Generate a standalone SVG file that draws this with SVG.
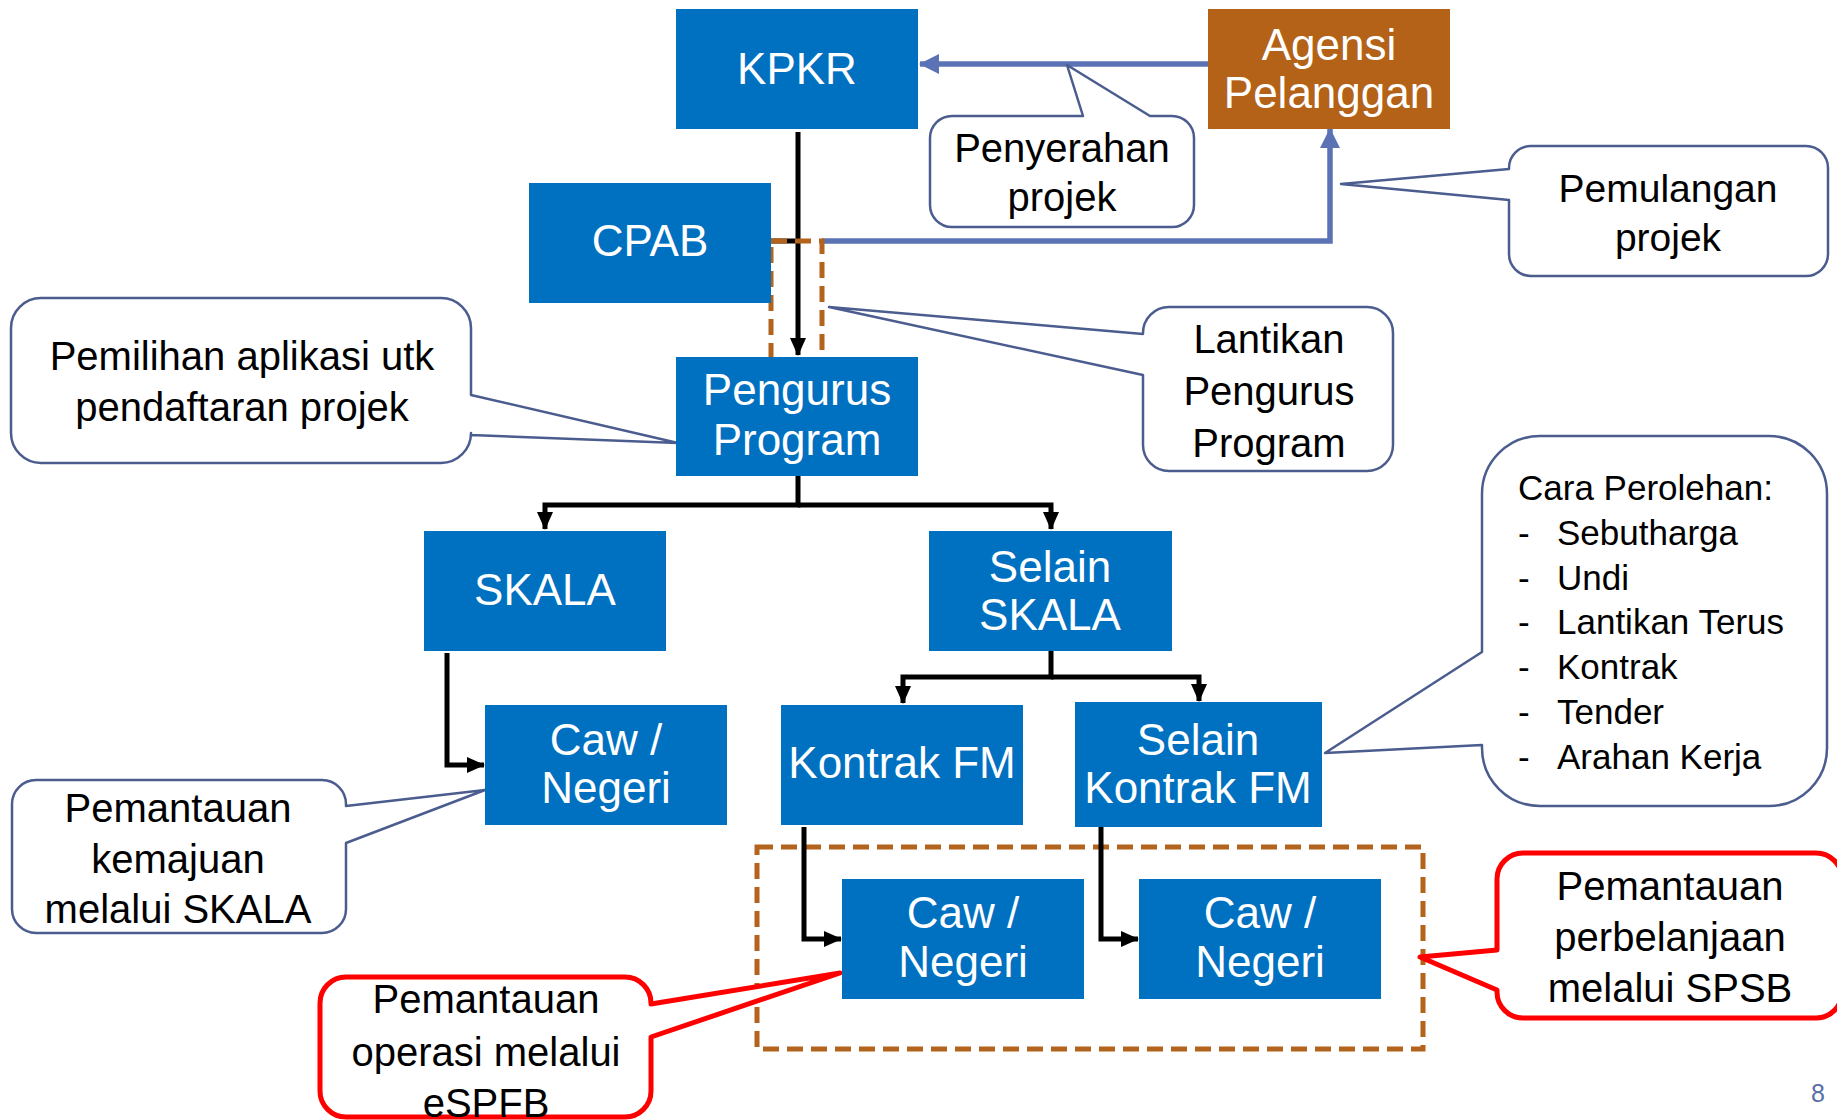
<svg xmlns="http://www.w3.org/2000/svg" width="1837" height="1120" viewBox="0 0 1837 1120">
<style>
.node rect{fill:#0070C0}
.node text{fill:#fff;font-family:"Liberation Sans",Arial,sans-serif;font-size:44px;text-anchor:middle}
.co path{fill:#fff;stroke:#4B5C8E;stroke-width:2.5;stroke-linejoin:round}
.co.red path{stroke:#FF0000;stroke-width:5}
.co text{fill:#000;font-family:"Liberation Sans",Arial,sans-serif;font-size:40px;text-anchor:middle}
.co text.l{text-anchor:start;font-size:35px}
.blk{fill:none;stroke:#000;stroke-width:5;marker-end:url(#ab)}
.blu{fill:none;stroke:#5B73B5;stroke-width:5.5;marker-end:url(#au)}
.dash{fill:none;stroke:#B4631C;stroke-width:5;stroke-dasharray:16 8}
</style>
<defs>
<marker id="ab" markerUnits="userSpaceOnUse" markerWidth="18" markerHeight="18" viewBox="0 0 18 18" refX="17" refY="9" orient="auto"><path d="M0,1 L18,9 L0,17 Z" fill="#000"/></marker>
<marker id="au" markerUnits="userSpaceOnUse" markerWidth="20" markerHeight="22" viewBox="0 0 20 22" refX="19" refY="11" orient="auto"><path d="M0,1 L20,11 L0,21 Z" fill="#5B73B5"/></marker>
</defs>
<rect width="1837" height="1120" fill="#fff"/>

<g id="dashed-groups">
<rect class="dash" x="757" y="847" width="666" height="202"/>
</g>

<g id="connectors">
<path d="M771,241 H798" fill="none" stroke="#000" stroke-width="5"/>
<path class="blk" d="M798,132 V355"/>
<path class="blu" d="M1208,64 H920"/>
<path class="blu" d="M822,241 H1330 V129"/>
<path class="blk" d="M798,476 V505 H545 V529"/>
<path class="blk" d="M798,505 H1051 V529"/>
<path class="blk" d="M1051,651 V677 H903 V703"/>
<path class="blk" d="M1051,677 H1199 V701"/>
<path class="blk" d="M447,653 V765 H484"/>
<path class="blk" d="M804,827 V939 H841"/>
<path class="blk" d="M1101,827 V939 H1138"/>
</g>

<g id="dashed-small">
<rect class="dash" x="771" y="241" width="51" height="128"/>
</g>

<g id="callout-penyerahan" class="co">
<path d="M952,116 L1083,116 L1067,65 L1150,116 L1172,116 A22,22 0 0 1 1194,138 L1194,205 A22,22 0 0 1 1172,227 L952,227 A22,22 0 0 1 930,205 L930,138 A22,22 0 0 1 952,116 Z"/>
<text x="1062" y="162">Penyerahan</text>
<text x="1062" y="211">projek</text>
</g>

<g id="callout-pemulangan" class="co">
<path d="M1531,146 L1806,146 A22,22 0 0 1 1828,168 L1828,254 A22,22 0 0 1 1806,276 L1531,276 A22,22 0 0 1 1509,254 L1509,200 L1341,184 L1509,169 L1509,168 A22,22 0 0 1 1531,146 Z"/>
<text x="1668" y="202" style="font-size:39px">Pemulangan</text>
<text x="1668" y="251" style="font-size:39px">projek</text>
</g>

<g id="callout-lantikan" class="co">
<path d="M1169,307 L1367,307 A26,26 0 0 1 1393,333 L1393,445 A26,26 0 0 1 1367,471 L1169,471 A26,26 0 0 1 1143,445 L1143,375 L829,307 L1143,334 L1143,333 A26,26 0 0 1 1169,307 Z"/>
<text x="1269" y="353">Lantikan</text>
<text x="1269" y="405">Pengurus</text>
<text x="1269" y="457">Program</text>
</g>

<g id="callout-pemilihan" class="co">
<path d="M41,298 L441,298 A30,30 0 0 1 471,328 L471,395 L678,443 L471,435 L471,433 A30,30 0 0 1 441,463 L41,463 A30,30 0 0 1 11,433 L11,328 A30,30 0 0 1 41,298 Z"/>
<text x="242" y="370">Pemilihan aplikasi utk</text>
<text x="242" y="421">pendaftaran projek</text>
</g>

<g id="callout-cara" class="co">
<path d="M1540,436 L1769,436 A58,58 0 0 1 1827,494 L1827,748 A58,58 0 0 1 1769,806 L1540,806 A58,58 0 0 1 1482,748 L1482,745 L1325,753 L1482,652 L1482,494 A58,58 0 0 1 1540,436 Z"/>
<text class="l" x="1518" y="500">Cara Perolehan:</text>
<text class="l" x="1518" y="545">-</text><text class="l" x="1557" y="545">Sebutharga</text>
<text class="l" x="1518" y="590">-</text><text class="l" x="1557" y="590">Undi</text>
<text class="l" x="1518" y="634">-</text><text class="l" x="1557" y="634">Lantikan Terus</text>
<text class="l" x="1518" y="679">-</text><text class="l" x="1557" y="679">Kontrak</text>
<text class="l" x="1518" y="724">-</text><text class="l" x="1557" y="724">Tender</text>
<text class="l" x="1518" y="769">-</text><text class="l" x="1557" y="769">Arahan Kerja</text>
</g>

<g id="callout-kemajuan" class="co">
<path d="M36,780 L322,780 A24,24 0 0 1 346,804 L346,806 L485,790 L346,843 L346,909 A24,24 0 0 1 322,933 L36,933 A24,24 0 0 1 12,909 L12,804 A24,24 0 0 1 36,780 Z"/>
<text x="178" y="822">Pemantauan</text>
<text x="178" y="873">kemajuan</text>
<text x="178" y="923">melalui SKALA</text>
</g>

<g id="callout-operasi" class="co red">
<path d="M346,977 L625,977 A26,26 0 0 1 651,1003 L651,1004 L840,973 L651,1037 L651,1091 A26,26 0 0 1 625,1117 L346,1117 A26,26 0 0 1 320,1091 L320,1003 A26,26 0 0 1 346,977 Z"/>
<text x="486" y="1013">Pemantauan</text>
<text x="486" y="1066">operasi melalui</text>
<text x="486" y="1117">eSPFB</text>
</g>

<g id="callout-perbelanjaan" class="co red">
<path d="M1523,853 L1816,853 A26,26 0 0 1 1842,879 L1842,992 A26,26 0 0 1 1816,1018 L1523,1018 A26,26 0 0 1 1497,992 L1497,990 L1420,957 L1497,950 L1497,879 A26,26 0 0 1 1523,853 Z"/>
<text x="1670" y="900">Pemantauan</text>
<text x="1670" y="951">perbelanjaan</text>
<text x="1670" y="1002">melalui SPSB</text>
</g>

<g id="node-kpkr" class="node"><rect x="676" y="9" width="242" height="120"/><text x="797" y="84">KPKR</text></g>
<g id="node-agensi" class="node"><rect x="1208" y="9" width="242" height="120" style="fill:#B36217"/><text x="1329" y="60">Agensi</text><text x="1329" y="108">Pelanggan</text></g>
<g id="node-cpab" class="node"><rect x="529" y="183" width="242" height="120"/><text x="650" y="256">CPAB</text></g>
<g id="node-pengurus" class="node"><rect x="676" y="357" width="242" height="119"/><text x="797" y="405">Pengurus</text><text x="797" y="455">Program</text></g>
<g id="node-skala" class="node"><rect x="424" y="531" width="242" height="120"/><text x="545" y="605">SKALA</text></g>
<g id="node-selain-skala" class="node"><rect x="929" y="531" width="243" height="120"/><text x="1050" y="582">Selain</text><text x="1050" y="630">SKALA</text></g>
<g id="node-caw1" class="node"><rect x="485" y="705" width="242" height="120"/><text x="606" y="755">Caw /</text><text x="606" y="803">Negeri</text></g>
<g id="node-kontrak" class="node"><rect x="781" y="705" width="242" height="120"/><text x="902" y="778">Kontrak FM</text></g>
<g id="node-selain-kontrak" class="node"><rect x="1075" y="702" width="247" height="125"/><text x="1198" y="755">Selain</text><text x="1198" y="803">Kontrak FM</text></g>
<g id="node-caw2" class="node"><rect x="842" y="879" width="242" height="120"/><text x="963" y="928">Caw /</text><text x="963" y="977">Negeri</text></g>
<g id="node-caw3" class="node"><rect x="1139" y="879" width="242" height="120"/><text x="1260" y="928">Caw /</text><text x="1260" y="977">Negeri</text></g>

<text x="1818" y="1102" style="fill:#5A6EA8;font-family:'Liberation Sans',Arial,sans-serif;font-size:25px;text-anchor:middle">8</text>
</svg>
